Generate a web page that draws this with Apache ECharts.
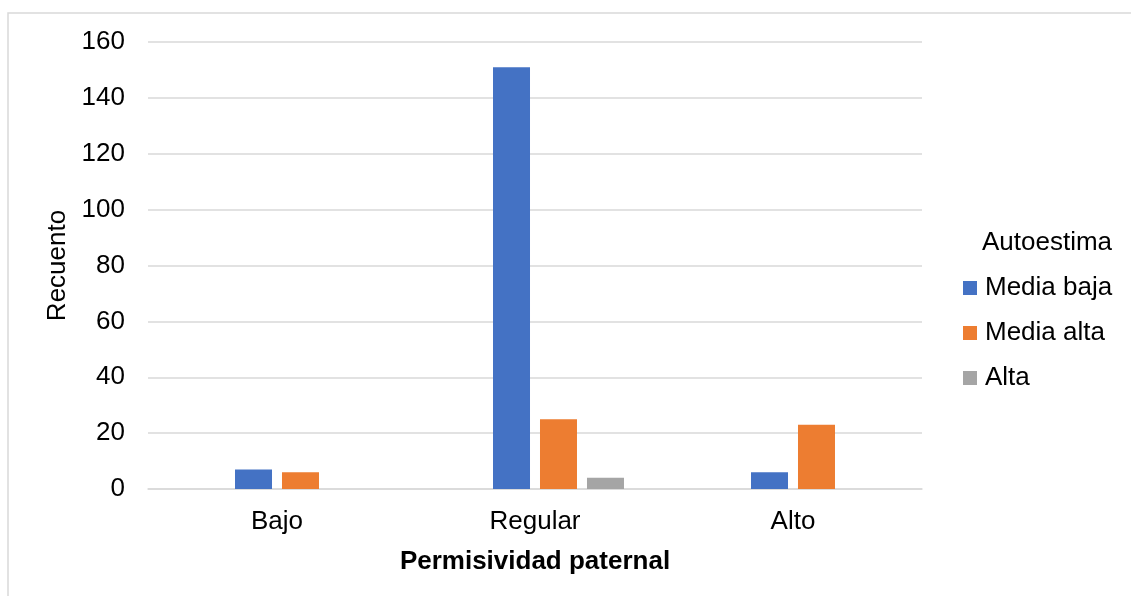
<!DOCTYPE html>
<html lang="es">
<head>
  <meta charset="UTF-8">
  <title>Permisividad paternal</title>
  <script src="https://cdn.jsdelivr.net/npm/echarts@6/dist/echarts.min.js"></script>
  <style>
    * { margin: 0; padding: 0; }
    html, body { background: #fff; }
    #chart { width: 1131px; height: 596px; }
  </style>
</head>
<body>
  <div id="chart"></div>
  <script>
    // categorias y recuentos
    var categorias = ['Bajo', 'Regular', 'Alto'];
    var vacia = [null, null, null]; // serie sin datos, ocupa el primer hueco
    var mediaBaja = [7, 151, 6];
    var mediaAlta = [6, 25, 23];
    var alta = [null, 4, null];
    var ticksY = [0, 20, 40, 60, 80, 100, 120, 140, 160];

    var fuente = '"Liberation Sans", Arial, sans-serif';
    var chart = echarts.init(document.getElementById('chart'));

    chart.setOption({
      animation: false,
      textStyle: { fontFamily: fuente },
      graphic: [{
        type: 'rect',
        shape: { x: 8, y: 13, width: 1200, height: 700 },
        style: { fill: 'none', stroke: '#d9d9d9', lineWidth: 1.5 },
        silent: true
      }],
      title: {
        text: 'Autoestima',
        left: 982,
        top: 229,
        padding: 0,
        textStyle: { fontFamily: fuente, fontSize: 26, fontWeight: 'normal', color: '#000', lineHeight: 28 }
      },
      legend: {
        orient: 'vertical',
        left: 963,
        top: 274,
        padding: 0,
        itemWidth: 14,
        itemHeight: 14,
        itemGap: 17,
        icon: 'rect',
        data: ['Media baja', 'Media alta', 'Alta'],
        textStyle: { fontFamily: fuente, fontSize: 26, color: '#000', lineHeight: 28, padding: [0, 0, 0, 3] }
      },
      grid: { left: 148, right: 209, top: 42, bottom: 107 },
      xAxis: {
        type: 'category',
        data: categorias,
        name: 'Permisividad paternal',
        nameLocation: 'middle',
        nameGap: 60,
        nameTextStyle: { fontFamily: fuente, fontSize: 26, fontWeight: 'bold', color: '#000' },
        axisLine: { lineStyle: { color: '#d9d9d9', width: 1.5 } },
        axisTick: { show: false },
        axisLabel: { fontFamily: fuente, fontSize: 26, color: '#000', margin: 20 }
      },
      yAxis: {
        type: 'value',
        min: ticksY[0],
        max: ticksY[ticksY.length - 1],
        interval: 20,
        name: 'Recuento',
        nameLocation: 'middle',
        nameGap: 77,
        nameTextStyle: { fontFamily: fuente, fontSize: 26, color: '#000' },
        axisLine: { show: false },
        axisTick: { show: false },
        splitLine: { lineStyle: { color: '#d9d9d9', width: 1.5 } },
        axisLabel: { fontFamily: fuente, fontSize: 26, color: '#000', margin: 23 }
      },
      series: [{
        name: 'Baja',
        type: 'bar',
        data: vacia,
        barWidth: 37,
        barGap: '27%'
      }, {
        name: 'Media baja',
        type: 'bar',
        data: mediaBaja,
        barWidth: 37,
        barGap: '27%',
        itemStyle: { color: '#4472c4' }
      }, {
        name: 'Media alta',
        type: 'bar',
        data: mediaAlta,
        barWidth: 37,
        barGap: '27%',
        itemStyle: { color: '#ed7d31' }
      }, {
        name: 'Alta',
        type: 'bar',
        data: alta,
        barWidth: 37,
        barGap: '27%',
        itemStyle: { color: '#a5a5a5' }
      }]
    });
  </script>
</body>
</html>
